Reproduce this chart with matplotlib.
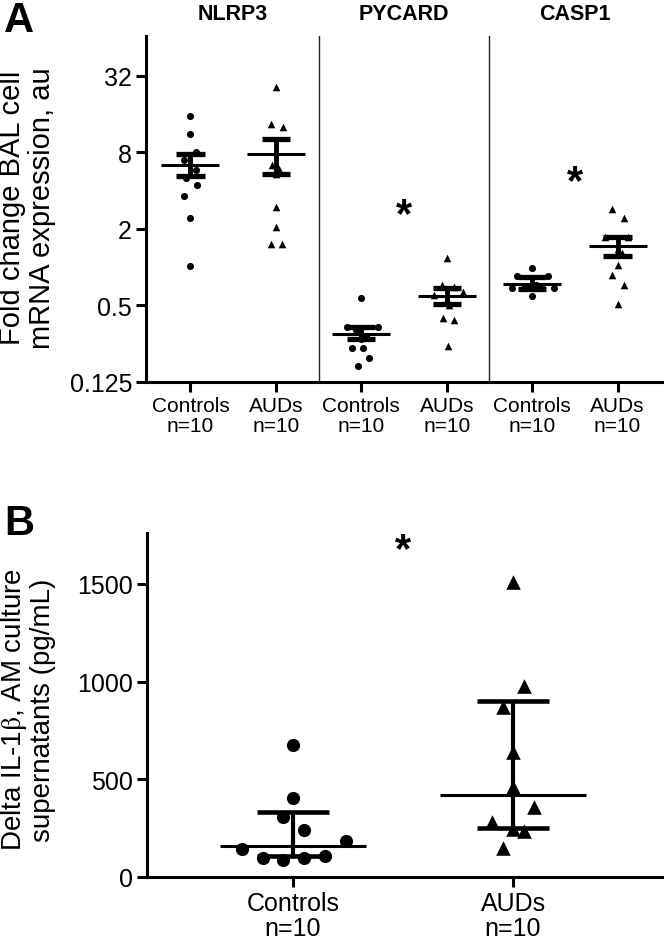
import matplotlib
matplotlib.use("Agg")
import matplotlib.pyplot as plt
import numpy as np

plt.rcParams["font.family"] = ["Liberation Sans", "DejaVu Sans"]
plt.rcParams["mathtext.fontset"] = "stix"

# ---- panel A: BAL cell mRNA fold change (log2 axis), mean +/- SEM ----
genes = ["NLRP3", "PYCARD", "CASP1"]
group_labels_a = ["Controls\nn=10", "AUDs\nn=10"] * 3

nlrp3_ctrl = [15.6, 11.2, 8.1, 7.0, 5.8, 5.0, 4.4, 3.66, 2.44, 1.03]
nlrp3_aud = [26.0, 13.5, 12.7, 6.4, 5.9, 5.4, 2.99, 2.07, 1.53, 1.53]
pycard_ctrl = [0.573, 0.34, 0.34, 0.32, 0.29, 0.27, 0.23, 0.23, 0.194, 0.168]
pycard_aud = [1.18, 0.72, 0.70, 0.64, 0.60, 0.56, 0.50, 0.40, 0.385, 0.24]
casp1_ctrl = [0.98, 0.85, 0.85, 0.72, 0.70, 0.69, 0.69, 0.69, 0.69, 0.59]
casp1_aud = [2.87, 2.42, 1.74, 1.72, 1.40, 1.30, 1.05, 0.87, 0.725, 0.514]

# horizontal scatter of the dots within each column (category units)
nlrp3_ctrl_dx = [0, 0, 0.06, -0.07, 0.07, -0.05, 0.08, -0.07, 0, 0]
nlrp3_aud_dx = [0, -0.06, 0.08, -0.04, 0.04, 0, 0, 0, -0.06, 0.07]
pycard_ctrl_dx = [0, -0.17, 0.2, -0.06, 0.06, 0, -0.11, 0.02, 0.085, -0.04]
pycard_aud_dx = [0, -0.05, 0.08, 0.19, -0.15, 0, 0.03, -0.04, 0.08, 0.02]
casp1_ctrl_dx = [0, -0.18, 0.19, 0.05, -0.05, -0.23, -0.1, 0.12, 0.25, 0]
casp1_aud_dx = [-0.06, 0.07, -0.15, 0.12, 0, 0.05, 0, -0.06, 0.07, 0]

means_a = [6.4, 7.8, 0.298, 0.594, 0.738, 1.46]
sem_lo_a = [5.24, 5.4, 0.272, 0.511, 0.674, 1.22]
sem_hi_a = [7.78, 10.2, 0.339, 0.683, 0.835, 1.73]

star_x_a = [2.5, 4.5]
star_y_a = [2.55, 4.7]

yticks_a = [0.125, 0.5, 2, 8, 32]
ytick_labels_a = ["0.125", "0.5", "2", "8", "32"]

# ---- panel B: IL-1beta in AM culture supernatants, median + IQR ----
group_labels_b = ["Controls\nn=10", "AUDs\nn=10"]
il1b_ctrl = [676, 405, 306, 238, 182, 141, 99, 85, 99, 110]
il1b_aud = [1510, 975, 868, 641, 460, 357, 281, 247, 235, 148]
il1b_ctrl_dx = [0, 0, -0.045, 0.048, 0.24, -0.23, -0.136, -0.045, 0.048, 0.144]
il1b_aud_dx = [0, 0.048, -0.045, 0, 0, 0.094, -0.095, 0, 0.048, -0.045]
medians_b = [161, 417]
q1_b = [109, 253]
q3_b = [335, 900]
star_x_b = 0.5
star_y_b = 1675

LW = 2.2


def style_axis(ax):
    for side in ("top", "right"):
        ax.spines[side].set_visible(False)
    for side in ("left", "bottom"):
        ax.spines[side].set_linewidth(LW)
    ax.tick_params(direction="out", length=7, width=LW, pad=3)
    ax.minorticks_off()


W, H = 667, 945
fig = plt.figure(figsize=(W / 100, H / 100), dpi=100)

# panel A
axA = fig.add_axes([146 / W, 1 - 383 / H, (662 - 146) / W, (383 - 37) / H])
axA.set_yscale("log", base=2)
groups = [nlrp3_ctrl, nlrp3_aud, pycard_ctrl, pycard_aud, casp1_ctrl, casp1_aud]
offsets = [nlrp3_ctrl_dx, nlrp3_aud_dx, pycard_ctrl_dx, pycard_aud_dx,
           casp1_ctrl_dx, casp1_aud_dx]
for i, (vals, dx) in enumerate(zip(groups, offsets)):
    marker = "o" if i % 2 == 0 else "^"
    size = 26 if marker == "o" else 30
    axA.scatter(i + np.array(dx), vals, marker=marker, s=size, color="black",
                linewidths=0, zorder=3)
    axA.hlines(means_a[i], i - 0.34, i + 0.34, color="black", lw=2.2, zorder=4)
    axA.vlines(i, sem_lo_a[i], sem_hi_a[i], color="black", lw=3.5, zorder=4)
    axA.hlines([sem_lo_a[i], sem_hi_a[i]], i - 0.165, i + 0.165, color="black",
               lw=3.8, zorder=4)

for xsep in (1.5, 3.5):
    axA.axvline(xsep, color="#222222", lw=1.0, zorder=1)

for x, y in zip(star_x_a, star_y_a):
    axA.text(x, y, "*", ha="center", va="center", fontsize=30, fontweight="bold")

for k, gene in enumerate(genes):
    axA.text(2 * k + 0.5, 1.064, gene, transform=axA.get_xaxis_transform(),
             ha="center", va="center", fontsize=15.5, fontweight="bold")

axA.set_xlim(-0.52, 5.52)
axA.set_ylim(0.125, 66)
axA.set_yticks(yticks_a)
axA.set_yticklabels(ytick_labels_a)
axA.set_xticks(range(6))
axA.set_xticklabels(group_labels_a, linespacing=1.05)
style_axis(axA)
axA.tick_params(axis="y", labelsize=18)
axA.tick_params(axis="x", labelsize=15)

fig.text(27 / W, 1 - 208 / H, "Fold change BAL cell\nmRNA expression, au",
         rotation=90, ha="center", va="center", fontsize=21, linespacing=1.05)
fig.text(4 / W, 1 - 1 / H, "A", ha="left", va="top", fontsize=30,
         fontweight="bold")

# panel B
axB = fig.add_axes([147 / W, 1 - 878 / H, (662 - 147) / W, (878 - 534) / H])
for i, (vals, dx, marker, size) in enumerate(
        [(il1b_ctrl, il1b_ctrl_dx, "o", 90), (il1b_aud, il1b_aud_dx, "^", 110)]):
    axB.scatter(i + np.array(dx), vals, marker=marker, s=size, color="black",
                linewidths=0, zorder=3)
    axB.hlines(medians_b[i], i - 0.33, i + 0.33, color="black", lw=2.2, zorder=4)
    axB.vlines(i, q1_b[i], q3_b[i], color="black", lw=3.0, zorder=4)
    axB.hlines([q1_b[i], q3_b[i]], i - 0.164, i + 0.164, color="black", lw=3.3,
               zorder=4)

axB.text(star_x_b, star_y_b, "*", ha="center", va="center", fontsize=30,
         fontweight="bold")

axB.set_xlim(-0.664, 1.677)
axB.set_ylim(0, 1760)
axB.set_yticks([0, 500, 1000, 1500])
axB.set_xticks([0, 1])
axB.set_xticklabels(group_labels_b, linespacing=1.05)
style_axis(axB)
axB.tick_params(axis="both", labelsize=18)

fig.text(28 / W, 1 - 710 / H, "Delta IL-1$\\mathrm{\\beta}$, AM culture\nsupernatants (pg/mL)",
         rotation=90, ha="center", va="center", fontsize=20, linespacing=1.05)
fig.text(4 / W, 1 - 504 / H, "B", ha="left", va="top", fontsize=30,
         fontweight="bold")

fig.savefig("out.png", dpi=100)
